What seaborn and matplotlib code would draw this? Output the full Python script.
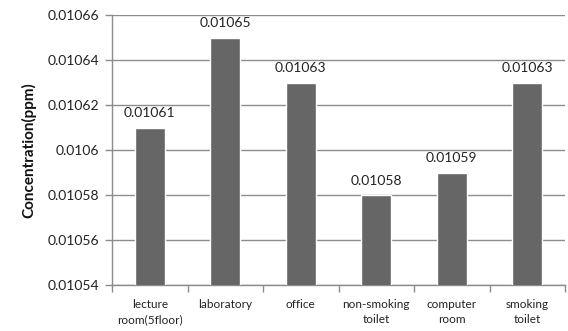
import matplotlib
matplotlib.use("Agg")
import matplotlib.pyplot as plt
import seaborn as sns
import pandas as pd
from matplotlib.ticker import FixedLocator

locations = ["lecture\nroom(5floor)", "laboratory", "office",
             "non-smoking\ntoilet", "computer\nroom", "smoking\ntoilet"]
concentration = [0.01061, 0.01065, 0.01063, 0.01058, 0.01059, 0.01063]
y_ticks = [0.01054, 0.01056, 0.01058, 0.0106, 0.01062, 0.01064, 0.01066]
y_tick_labels = ["0.01054", "0.01056", "0.01058", "0.0106", "0.01062", "0.01064", "0.01066"]

df = pd.DataFrame({"location": locations, "concentration": concentration})

sns.set_theme(style="white")
plt.rcParams["font.family"] = ["Lato", "DejaVu Sans"]

fig = plt.figure(figsize=(5.68, 3.31), dpi=100)
ax = fig.add_axes([112 / 568, 1 - 285 / 331, (565 - 112) / 568, (285 - 15) / 331])

sns.barplot(data=df, x="location", y="concentration", color="#666666",
            width=0.4, saturation=1, ax=ax, zorder=3)

ax.set_ylim(y_ticks[0], y_ticks[-1])
ax.set_yticks(y_ticks)
ax.set_yticklabels(y_tick_labels, fontsize=10, color="#222222")
ax.yaxis.grid(True, color="#8c8c8c", linewidth=1)
ax.set_axisbelow(True)

ax.set_xlim(-0.5, len(locations) - 0.5)
ax.tick_params(axis="x", length=0, pad=10, labelsize=8.5, labelcolor="#222222")
for lbl in ax.get_xticklabels():
    lbl.set_linespacing(1.5)
ax.xaxis.set_minor_locator(FixedLocator([i - 0.5 for i in range(len(locations) + 1)]))
ax.tick_params(axis="x", which="minor", length=5, width=1, color="#8c8c8c", direction="out", bottom=True)
ax.tick_params(axis="y", length=5, width=1, color="#8c8c8c", direction="out", left=True, pad=4)

for s in ["top", "right"]:
    ax.spines[s].set_visible(False)
for s in ["left", "bottom"]:
    ax.spines[s].set_color("#8c8c8c")
    ax.spines[s].set_linewidth(1)

ax.set_xlabel("")
ax.set_ylabel("Concentration(ppm)", fontsize=11, fontweight="bold", color="#111111", labelpad=8)

for i, v in enumerate(concentration):
    ax.annotate(f"{v:.5f}", (i, v), xytext=(0, 6), textcoords="offset points",
                ha="center", va="bottom", fontsize=10, color="#222222")

fig.savefig("out.png", dpi=100)
